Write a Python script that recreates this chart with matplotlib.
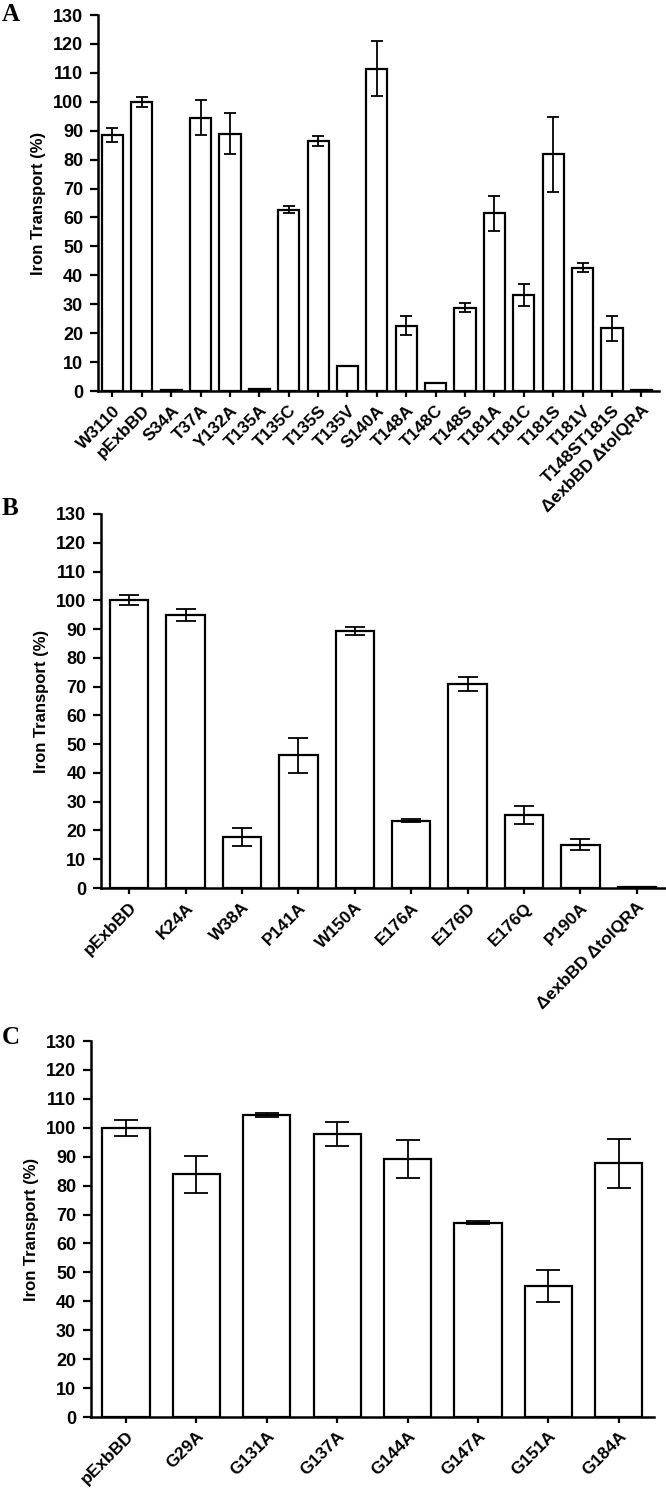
import matplotlib
matplotlib.use("Agg")
import matplotlib.pyplot as plt
import numpy as np

# ---------------- data ----------------
cats_a = ["W3110", "pExbBD", "S34A", "T37A", "Y132A", "T135A", "T135C", "T135S",
          "T135V", "S140A", "T148A", "T148C", "T148S", "T181A", "T181C", "T181S",
          "T181V", "T148ST181S", "ΔexbBD ΔtolQRA"]
vals_a = [88.5, 100, 0.3, 94.5, 89, 0.7, 62.6, 86.5, 8.6, 111.5, 22.5, 2.6, 28.8,
          61.4, 33.2, 81.8, 42.6, 21.7, 0.2]
errs_a = [2.3, 1.7, 0, 6, 7, 0, 1.2, 1.7, 0, 9.5, 3.3, 0, 1.5, 6, 3.7, 13, 1.5, 4.3, 0]

cats_b = ["pExbBD", "K24A", "W38A", "P141A", "W150A", "E176A", "E176D", "E176Q",
          "P190A", "ΔexbBD ΔtolQRA"]
vals_b = [100, 94.9, 17.7, 46.1, 89.3, 23.4, 70.9, 25.5, 15.1, 0.2]
errs_b = [1.8, 2.1, 3, 6, 1.4, 0.5, 2.4, 3.1, 2, 0]

cats_c = ["pExbBD", "G29A", "G131A", "G137A", "G144A", "G147A", "G151A", "G184A"]
vals_c = [100, 83.9, 104.4, 97.9, 89.2, 67.2, 45.2, 87.7]
errs_c = [2.7, 6.3, 0.7, 4.1, 6.5, 0.4, 5.5, 8.5]

yticks = list(range(0, 131, 10))

# ---------------- style ----------------
plt.rcParams['font.family'] = ['Liberation Sans', 'DejaVu Sans']
plt.rcParams['font.weight'] = 'bold'

W, H = 666, 1490
fig = plt.figure(figsize=(W / 100, H / 100), dpi=100)


def rect(left, right, top, bottom):
    return [left / W, 1 - bottom / H, (right - left) / W, (bottom - top) / H]


def panel(r, cats, vals, errs, width, capsize, xmax, letter, letter_y):
    ax = fig.add_axes(r)
    x = np.arange(len(cats))
    ax.bar(x, vals, width=width, color='white', edgecolor='black', linewidth=1.6,
           zorder=2)
    e = np.array(errs, dtype=float)
    m = e > 0
    ax.errorbar(x[m], np.array(vals)[m], yerr=e[m], fmt='none', ecolor='black',
                elinewidth=1.3, capsize=capsize, capthick=1.3, zorder=3)
    ax.set_xlim(-0.5, xmax)
    ax.set_ylim(0, 130)
    ax.set_yticks(yticks)
    ax.set_yticklabels([str(t) for t in yticks], fontsize=13, fontweight='bold')
    ax.set_xticks(x)
    ax.set_xticklabels(cats, rotation=45, ha='right', va='top',
                       rotation_mode='anchor', fontsize=12.5, fontweight='bold')
    for s in ['top', 'right']:
        ax.spines[s].set_visible(False)
    for s in ['left', 'bottom']:
        ax.spines[s].set_linewidth(1.8)
    ax.tick_params(axis='y', direction='out', length=6, width=1.6, pad=4.5)
    ax.tick_params(axis='x', direction='out', length=4.5, width=1.6, pad=4)
    ax.set_ylabel('Iron Transport (%)', fontsize=12, fontweight='bold', labelpad=5)
    fig.text(2 / W, 1 - letter_y / H, letter, fontsize=18, fontweight='bold',
             family='Liberation Serif', va='top', ha='left')
    return ax


panel(rect(97.7, 659, 15, 391), cats_a, vals_a, errs_a, 0.72, 4, 18.6, 'A', 3)
panel(rect(101, 665, 514, 888), cats_b, vals_b, errs_b, 0.68, 7.2, 9.5, 'B', 497)
panel(rect(90.8, 654, 1041, 1417), cats_c, vals_c, errs_c, 0.67, 8.5, 7.5, 'C', 1026)

fig.savefig('out.png', dpi=100)
